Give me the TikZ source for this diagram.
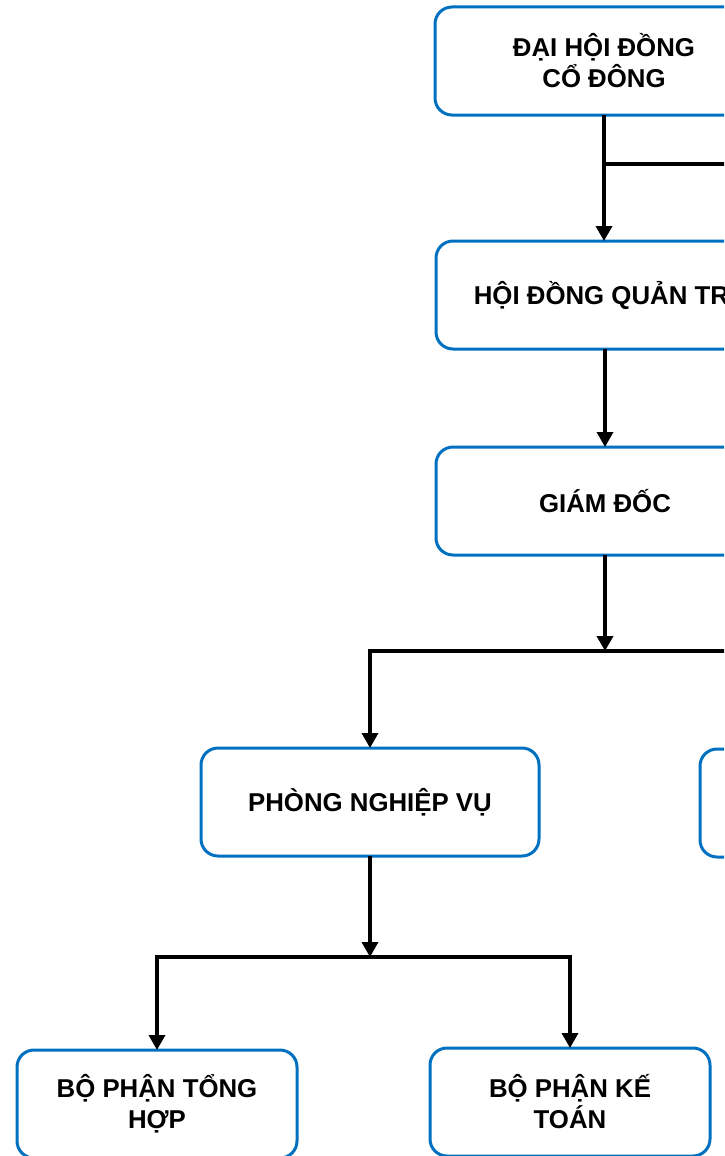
\documentclass[tikz,border=0pt]{standalone}
\usepackage{fontspec}
\setmainfont{Liberation Sans}
\usetikzlibrary{arrows.meta}
\definecolor{boxblue}{HTML}{0070C0}
\begin{document}
\begin{tikzpicture}[x=1pt,y=-1pt,
  box/.style={draw=boxblue, line width=3pt, rounded corners=17pt, fill=white,
    minimum width=338pt, minimum height=108pt, align=center, inner sep=0pt,
    outer sep=0pt, anchor=north west,
    font=\bfseries\fontsize{25.8}{31}\selectfont},
  smallbox/.style={box, minimum width=280pt},
  link/.style={line width=3.5pt, black},
  arr/.style={link, -{Triangle[width=16pt,length=15pt]}},
  twoarr/.style={link, {Triangle[width=16pt,length=15pt]}-{Triangle[width=16pt,length=15pt]}},
]
\useasboundingbox (0,0) rectangle (724,1156);
\clip (0,0) rectangle (724,1156);

\node[box] (dh) at (435,7) {ĐẠI HỘI ĐỒNG\\CỔ ĐÔNG};
\node[box] (hd) at (436,241) {HỘI ĐỒNG QUẢN TRỊ};
\node[box] (gd) at (436,447) {GIÁM ĐỐC};
\node[box] (pnv) at (201,748) {PHÒNG NGHIỆP VỤ};
\node[box] (rb) at (700,749) {};
\node[smallbox] (th) at (17,1050) {BỘ PHẬN TỔNG\\HỢP};
\node[smallbox] (kt) at (430,1048) {BỘ PHẬN KẾ\\TOÁN};

\coordinate (bk) at (780,164);
\coordinate (j1) at (605,651);
\coordinate (j2) at (372,957);

\draw[arr] (dh.south) -- (dh.south |- hd.north);
\draw[link] (dh.south |- bk) -- (bk);
\draw[arr] (hd.south) -- (hd.south |- gd.north);
\draw[arr] (gd.south) -- (gd.south |- j1);
\draw[twoarr] (pnv.north) -- (pnv.north |- j1) -- (rb.north |- j1) -- (rb.north);
\draw[arr] (pnv.south) -- (pnv.south |- j2);
\draw[twoarr] (th.north) -- (th.north |- j2) -- (kt.north |- j2) -- (kt.north);
\end{tikzpicture}
\end{document}
